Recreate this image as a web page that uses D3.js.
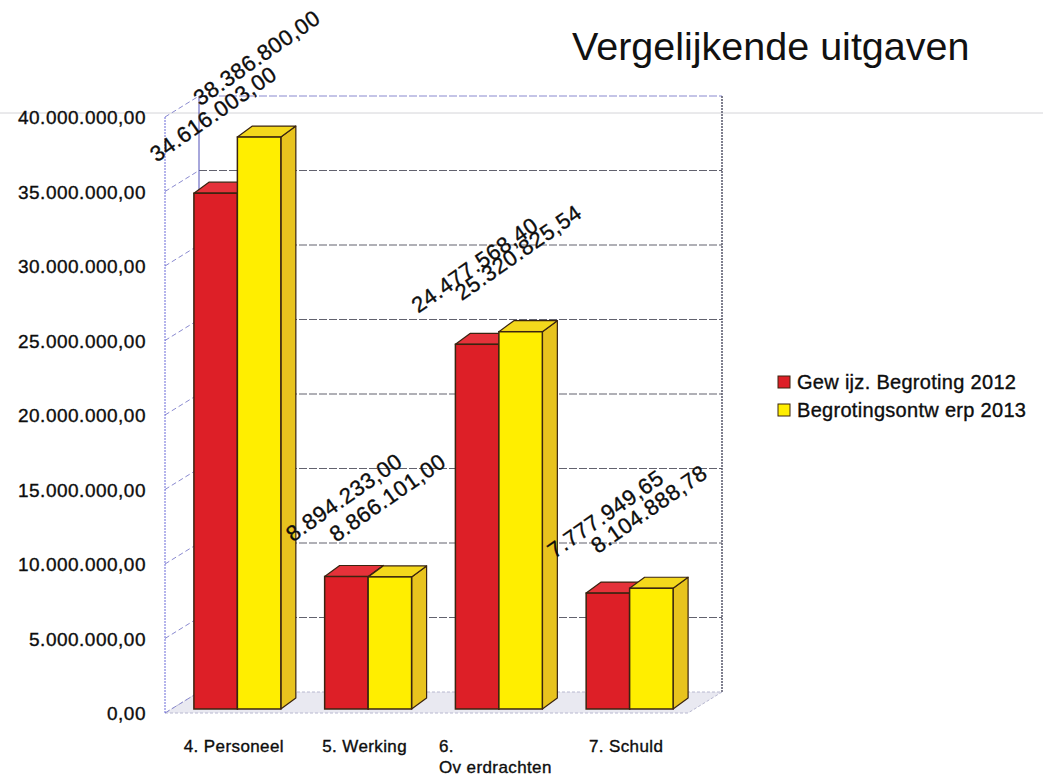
<!DOCTYPE html>
<html>
<head>
<meta charset="utf-8">
<script src="https://cdn.jsdelivr.net/npm/d3@7"></script>
<style>
  body { margin: 0; background: #fff; }
  svg { font-family: "Liberation Sans", Arial, sans-serif; }
  .ink { fill: #0d0d0d; stroke: #0d0d0d; stroke-width: 0.35px; }
</style>
</head>
<body>
<div id="chart"></div>
<script>
// categories and series
const categories = ["4. Personeel", "5. Werking", "6. Ov erdrachten", "7. Schuld"];
const seriesNames = ["Gew ijz. Begroting 2012", "Begrotingsontw erp 2013"];
const values2012 = [34616003.00, 8894233.00, 24477568.40, 7777949.65];
const values2013 = [38386800.00, 8866101.00, 25320825.54, 8104888.78];
const tickValues = [0, 5e6, 10e6, 15e6, 20e6, 25e6, 30e6, 35e6, 40e6];
const title = "Vergelijkende uitgaven";

const width = 1043, height = 781;

// colours: front, top, side
const colors = [
    {front: "#dd1f27", top: "#e5323a", side: "#a8161c"},
    {front: "#ffee00", top: "#f4d81c", side: "#e8c31e"}
];

const nl = d3.formatLocale({decimal: ",", thousands: ".", grouping: [3], currency: ["", ""]});
const fmt = nl.format(",.2f");

const svg = d3.select("#chart").append("svg")
    .attr("width", width)
    .attr("height", height);

// plot frame (front plane)
const plot = {left: 165, right: 688, top: 117, bottom: 713};
// depth of the walls
const wall = {dx: 34, dy: -21};
// bars sit a bit behind the front plane
const barOff = {dx: 7, dy: -4};
const barDepth = {dx: 15, dy: -11};

const y = d3.scaleLinear().domain([0, 40e6]).range([plot.bottom, plot.top]);

const x0 = d3.scaleBand()
    .domain(categories)
    .range([plot.left, plot.right])
    .paddingInner(0.335)
    .paddingOuter(0.1675);

const x1 = d3.scaleBand()
    .domain([0, 1])
    .range([0, x0.bandwidth()]);

// scan line across the page
svg.append("line")
    .attr("x1", 0).attr("x2", width)
    .attr("y1", 113).attr("y2", 113)
    .attr("stroke", "#d4d4d8").attr("stroke-width", 1);

// floor
const fb = plot.bottom;
svg.append("polygon")
    .attr("points", [
        [plot.left, fb], [plot.right, fb],
        [plot.right + wall.dx, fb + wall.dy], [plot.left + wall.dx, fb + wall.dy]
    ].join(" "))
    .attr("fill", "#e9e9f1")
    .attr("stroke", "#b8b8d0")
    .attr("stroke-dasharray", "3,2");

// gridlines on back and left wall
const grid = svg.append("g").attr("class", "grid");
tickValues.forEach(v => {
    const yy = y(v);
    if (v > 0) {
        grid.append("line")
            .attr("x1", plot.left + wall.dx).attr("x2", plot.right + wall.dx)
            .attr("y1", yy + wall.dy).attr("y2", yy + wall.dy)
            .attr("stroke", v === 40e6 ? "#8a8ad0" : "#62626e")
            .attr("stroke-width", 1.1)
            .attr("stroke-dasharray", "8,2");
    }
    grid.append("line")
        .attr("x1", plot.left).attr("x2", plot.left + wall.dx)
        .attr("y1", yy).attr("y2", yy + wall.dy)
        .attr("stroke", "#8a8ad0")
        .attr("stroke-dasharray", "5,3");
});

// wall edges
grid.append("line")
    .attr("x1", plot.left).attr("x2", plot.left)
    .attr("y1", plot.top).attr("y2", plot.bottom)
    .attr("stroke", "#6a6ad8").attr("stroke-dasharray", "2,1");
grid.append("line")
    .attr("x1", plot.left + wall.dx).attr("x2", plot.left + wall.dx)
    .attr("y1", plot.top + wall.dy).attr("y2", plot.bottom + wall.dy)
    .attr("stroke", "#5050b8");
grid.append("line")
    .attr("x1", plot.right + wall.dx).attr("x2", plot.right + wall.dx)
    .attr("y1", plot.top + wall.dy).attr("y2", plot.bottom + wall.dy)
    .attr("stroke", "#55556a").attr("stroke-dasharray", "2,1").attr("stroke-width", 1.5);

// y axis
const yAxis = svg.append("g")
    .attr("transform", `translate(${plot.left},0)`)
    .call(d3.axisLeft(y).tickValues(tickValues).tickFormat(fmt).tickSize(0).tickPadding(19));
yAxis.select(".domain").remove();
yAxis.selectAll("text")
    .attr("class", "ink")
    .attr("fill", null)
    .style("font-size", "19px")
    .style("letter-spacing", "0.5px")
    .attr("dy", "0.36em");

// bars
const series = [values2012, values2013];
const bars = svg.append("g").attr("class", "bars");
const stroke = "#3a2410";

categories.forEach((cat, i) => {
    series.forEach((vals, s) => {
        const v = vals[i];
        const xl = x0(cat) + x1(s) + barOff.dx;
        const xr = xl + x1.bandwidth();
        const yt = y(v) + barOff.dy;
        const yb = y(0) + barOff.dy;
        const c = colors[s];
        const g = bars.append("g");
        // side
        g.append("polygon")
            .attr("points", [[xr, yt], [xr + barDepth.dx, yt + barDepth.dy],
                [xr + barDepth.dx, yb + barDepth.dy], [xr, yb]].join(" "))
            .attr("fill", c.side).attr("stroke", stroke).attr("stroke-width", 1.2)
            .attr("stroke-linejoin", "round");
        // top
        g.append("polygon")
            .attr("points", [[xl, yt], [xr, yt], [xr + barDepth.dx, yt + barDepth.dy],
                [xl + barDepth.dx, yt + barDepth.dy]].join(" "))
            .attr("fill", c.top).attr("stroke", stroke).attr("stroke-width", 1.2)
            .attr("stroke-linejoin", "round");
        // front
        g.append("rect")
            .attr("x", xl).attr("y", yt)
            .attr("width", x1.bandwidth()).attr("height", yb - yt)
            .attr("fill", c.front).attr("stroke", stroke).attr("stroke-width", 1.5);
    });
});

// value labels, rotated
const labels = svg.append("g").attr("class", "value-labels");
series.forEach((vals, s) => {
    categories.forEach((cat, i) => {
        const v = vals[i];
        const cx = x0(cat) + x1(s) + barOff.dx + x1.bandwidth() / 2 + 2;
        const cy = y(v) + barOff.dy - 73;
        labels.append("text")
            .attr("class", "ink")
            .attr("transform", `translate(${cx},${cy}) rotate(-35)`)
            .attr("text-anchor", "middle")
            .style("font-size", "22px")
            .style("letter-spacing", "0.6px")
            .text(fmt(v));
    });
});

// category labels
const catG = svg.append("g").attr("class", "cat-labels");
categories.forEach(cat => {
    const cx = x0(cat) + x0.bandwidth() / 2 + barOff.dx / 2;
    const t = catG.append("text")
        .attr("class", "ink")
        .attr("y", 752)
        .style("font-size", "17px")
        .style("letter-spacing", "0.4px")
        .text(cat);
    let w = t.node().getComputedTextLength();
    if (w > 118) {
        const k = cat.indexOf(" ");
        const first = cat.slice(0, k), rest = cat.slice(k + 1);
        t.text(null);
        t.append("tspan").attr("x", 0).text(first);
        const t2 = t.append("tspan").attr("x", 0).attr("dy", 21).text(rest);
        w = t2.node().getComputedTextLength();
    }
    const left = cx - w / 2;
    t.attr("x", left);
    t.selectAll("tspan").attr("x", left);
});

// legend
const legend = svg.append("g").attr("transform", "translate(778,376)");
seriesNames.forEach((name, s) => {
    const row = legend.append("g").attr("transform", `translate(0,${s * 28})`);
    row.append("rect")
        .attr("width", 12).attr("height", 12)
        .attr("fill", colors[s].front)
        .attr("stroke", "#3a2410").attr("stroke-width", 1);
    row.append("text")
        .attr("class", "ink")
        .attr("x", 19).attr("y", 6)
        .attr("dy", "0.36em")
        .style("font-size", "20px")
        .style("letter-spacing", "0.3px")
        .text(name);
});

// title
svg.append("text")
    .attr("x", 572).attr("y", 60)
    .attr("fill", "#111")
    .style("font-size", "39.5px")
    .text(title);
</script>
</body>
</html>
